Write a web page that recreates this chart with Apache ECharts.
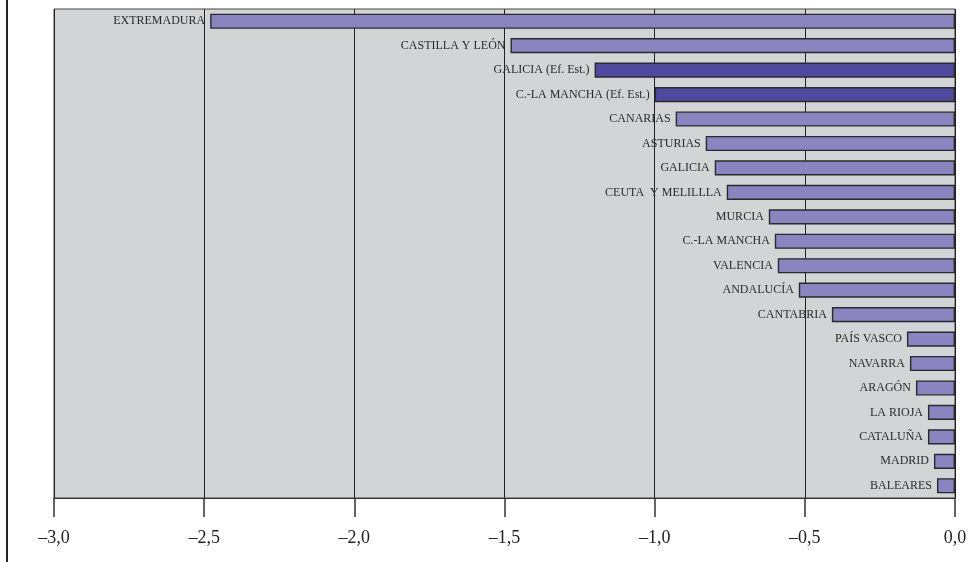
<!DOCTYPE html>
<html>
<head>
<meta charset="utf-8">
<script src="https://cdn.jsdelivr.net/npm/echarts@6/dist/echarts.min.js"></script>
<style>
  html, body { margin: 0; padding: 0; background: #fff; }
  #c1 { width: 976px; height: 562px; }
</style>
</head>
<body>
<div id="c1"></div>
<script>
// regiones, de arriba abajo
const regiones = [
  "EXTREMADURA", "CASTILLA Y LEÓN", "GALICIA (Ef. Est.)", "C.-LA MANCHA (Ef. Est.)",
  "CANARIAS", "ASTURIAS", "GALICIA", "CEUTA  Y MELILLLA", "MURCIA", "C.-LA MANCHA",
  "VALENCIA", "ANDALUCÍA", "CANTABRIA", "PAÍS VASCO", "NAVARRA", "ARAGÓN",
  "LA RIOJA", "CATALUÑA", "MADRID", "BALEARES"
];
const valores = [
  -2.48, -1.48, -1.20, -1.00, -0.93, -0.83, -0.80, -0.76, -0.62, -0.60,
  -0.59, -0.52, -0.41, -0.16, -0.15, -0.13, -0.09, -0.09, -0.07, -0.06
];
// las estimaciones por efectos estructurales van en color oscuro
const efEst = ["GALICIA (Ef. Est.)", "C.-LA MANCHA (Ef. Est.)"];
const ticksX = [-3, -2.5, -2, -1.5, -1, -0.5, 0];

let myChart = echarts.init(document.getElementById("c1"));

let datos = valores.map((v, i) => ({
  value: v,
  itemStyle: { color: efEst.includes(regiones[i]) ? "#4f4aa0" : "#8a85c1" }
}));

let option = {
  animation: false,
  textStyle: { fontFamily: "Liberation Serif" },
  grid: {
    left: 54, right: 21, top: 9, bottom: 64,
    show: true,
    backgroundColor: "#d3d4d6",
    borderColor: "#444",
    borderWidth: 1
  },
  xAxis: {
    type: "value",
    min: ticksX[0],
    max: ticksX[ticksX.length - 1],
    interval: 0.5,
    axisLine: { show: true, onZero: false, lineStyle: { color: "#333", width: 1 } },
    axisTick: { show: true, length: 19, lineStyle: { color: "#333", width: 1.5 } },
    splitLine: { show: true, lineStyle: { color: "#222", width: 1 } },
    axisLabel: {
      margin: 31,
      fontSize: 18,
      color: "#222",
      fontFamily: "Liberation Serif",
      formatter: (v) => v.toFixed(1).replace("-", "–").replace(".", ",")
    }
  },
  yAxis: {
    type: "category",
    inverse: true,
    data: regiones,
    axisLine: { show: false },
    axisTick: { show: false },
    axisLabel: { show: false }
  },
  series: [
    {
      type: "bar",
      data: datos,
      barWidth: "62%",
      itemStyle: { borderColor: "#2a2a2a", borderWidth: 1.4 },
      label: {
        show: true,
        position: "left",
        distance: 5,
        fontSize: 12,
        color: "#2a2a2a",
        fontFamily: "Liberation Serif",
        formatter: (p) => p.name
      }
    }
  ],
  graphic: [
    {
      type: "line",
      shape: { x1: 7, y1: 0, x2: 7, y2: 562 },
      style: { stroke: "#222", lineWidth: 2 }
    }
  ]
};
myChart.setOption(option);
</script>
</body>
</html>
